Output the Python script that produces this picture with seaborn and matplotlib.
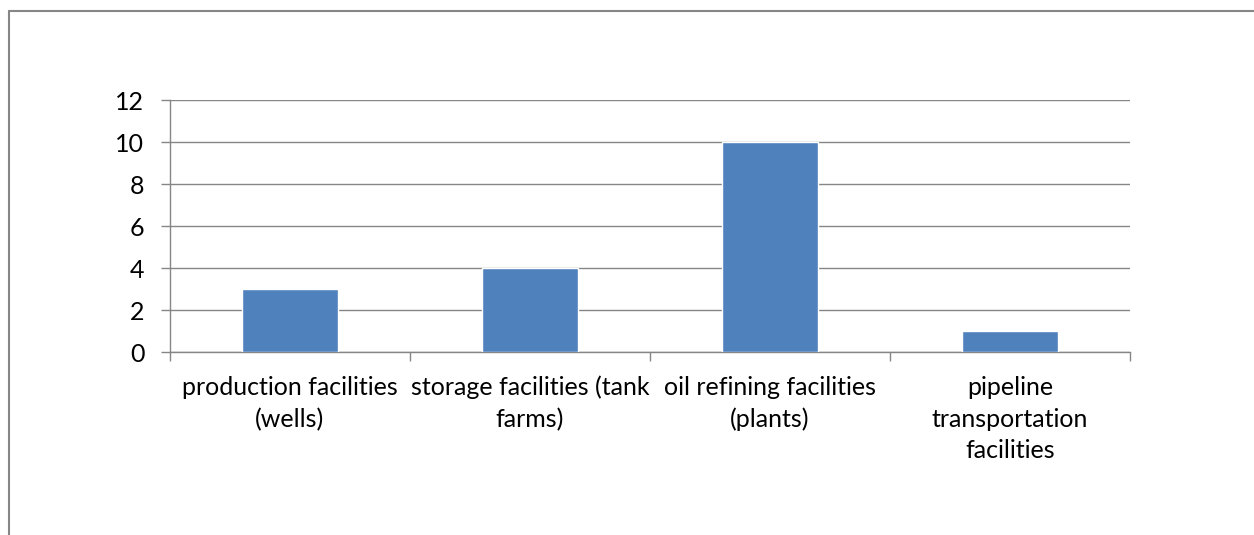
import matplotlib
matplotlib.use("Agg")
import matplotlib.pyplot as plt
import seaborn as sns
import pandas as pd
from matplotlib.lines import Line2D

categories = [
    "production facilities\n(wells)",
    "storage facilities (tank\nfarms)",
    "oil refining facilities\n(plants)",
    "pipeline\ntransportation\nfacilities",
]
counts = [3, 4, 10, 1]
y_ticks = [0, 2, 4, 6, 8, 10, 12]

sns.set_theme(style="white")
plt.rcParams["font.family"] = ["Lato", "DejaVu Sans"]

gray = "#868686"
bar_color = "#4F81BD"

df = pd.DataFrame({"category": categories, "count": counts})

fig = plt.figure(figsize=(12.54, 5.35), dpi=100)
ax = fig.add_axes([170 / 1254, 1 - 352 / 535, 960 / 1254, 252 / 535])

sns.barplot(data=df, x="category", y="count", color=bar_color, width=0.4,
            saturation=1, ax=ax, zorder=3)

ax.set_xlim(-0.5, len(categories) - 0.5)
ax.set_ylim(0, 12)
ax.set_yticks(y_ticks)
ax.set_xlabel("")
ax.set_ylabel("")

ax.yaxis.grid(True, color=gray, linewidth=1.0, zorder=0)
ax.xaxis.grid(False)
for side in ["top", "right"]:
    ax.spines[side].set_visible(False)
for side in ["left", "bottom"]:
    ax.spines[side].set_color(gray)
    ax.spines[side].set_linewidth(1.0)

# category boundaries as minor ticks on the x axis
ax.set_xticks([i - 0.5 for i in range(len(categories) + 1)], minor=True)
ax.tick_params(axis="x", which="major", length=0, pad=17, labelsize=18,
               colors="black")
ax.tick_params(axis="x", which="minor", length=6.5, width=1.0, color=gray,
               direction="out", bottom=True)
ax.tick_params(axis="y", which="major", length=6.5, width=1.0, color=gray,
               direction="out", left=True, pad=12, labelsize=18,
               labelcolor="black")
for lbl in ax.get_xticklabels():
    lbl.set_linespacing(1.47)
    lbl.set_va("top")

# chart-area frame
fig.add_artist(Line2D([8.5 / 1254, 8.5 / 1254], [0, 1 - 11 / 535],
                      transform=fig.transFigure, color=gray, linewidth=1.5))
fig.add_artist(Line2D([8.5 / 1254, 1], [1 - 11 / 535, 1 - 11 / 535],
                      transform=fig.transFigure, color=gray, linewidth=1.5))

fig.savefig("out.png", dpi=100, facecolor="white")
